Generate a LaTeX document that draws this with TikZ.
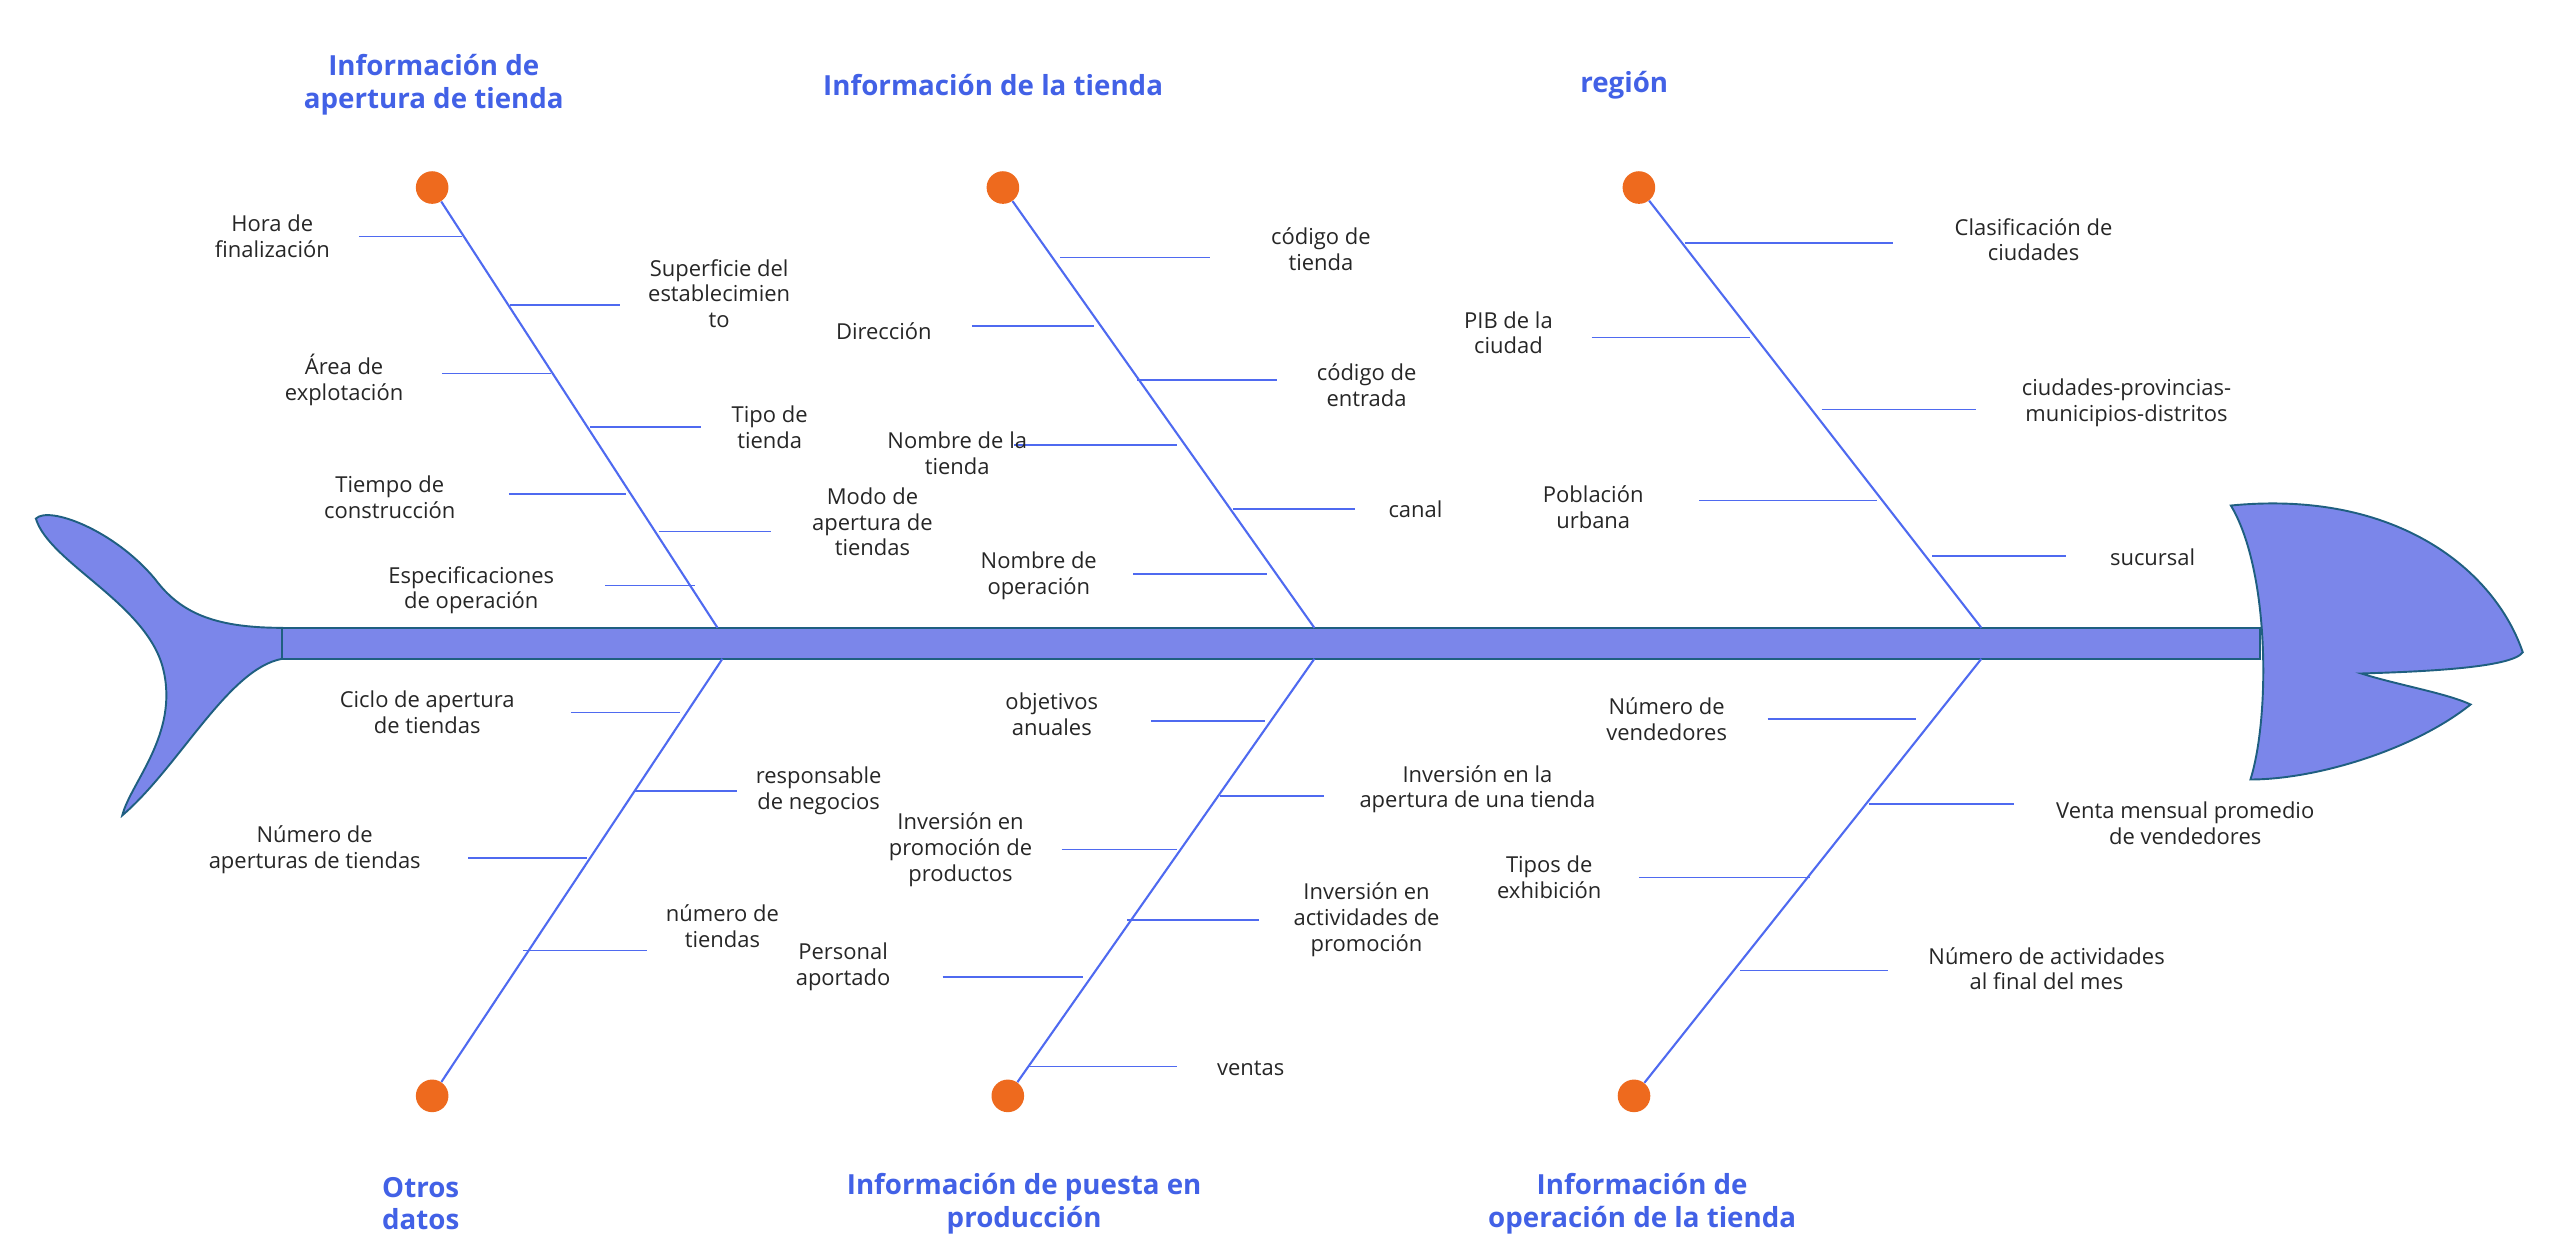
\documentclass[tikz,border=0pt]{standalone}
\usepackage{fontspec}
\setmainfont{Open Sans}
\definecolor{fishfill}{HTML}{7B86EA}
\definecolor{fishline}{HTML}{1F5F80}
\definecolor{bonecol}{HTML}{4F6AF0}
\definecolor{dotcol}{HTML}{EE6A1E}
\definecolor{titlecol}{HTML}{4261E6}
\begin{document}
\begin{tikzpicture}[x=0.03cm,y=-0.03cm,
    bone/.style={draw=bonecol,line width=1.1pt},
    branch/.style={draw=bonecol,line width=0.8pt},
    cause/.style={align=center,font=\fontsize{11.5}{13.5}\selectfont,text=black!85},
    title/.style={align=center,font=\fontsize{14.5}{17}\selectfont\bfseries,text=titlecol},
    dot/.style={circle,fill=dotcol,inner sep=0pt,minimum size=0.6cm}]
  \useasboundingbox (0,0) rectangle (1568,767);

  % tail and head
  \draw[fill=fishfill,draw=fishline,line width=1pt] (173,385) .. controls (130,385) and (110,375) .. (95,355) .. controls (70,325) and (30,310) .. (22,318) .. controls (30,345) and (90,370) .. (100,410) .. controls (110,450) and (80,480) .. (75,500) .. controls (110,470) and (140,410) .. (173,404) -- cycle;
  \draw[fill=fishfill,draw=fishline,line width=1pt] (1368,310) .. controls (1470,300) and (1530,350) .. (1547,400) .. controls (1540,410) and (1480,412) .. (1448,413) .. controls (1470,420) and (1500,425) .. (1515,432) .. controls (1480,460) and (1420,478) .. (1380,478) .. controls (1392,440) and (1392,350) .. cycle;
  \node(spine)[draw=fishline,fill=fishfill,line width=1pt,minimum width=1213*0.03cm,minimum height=19*0.03cm,inner sep=0pt] at (779.5,394.5) {};

  % dots
  \node(d1)[dot] at (265,115) {};
  \node(d2)[dot] at (615,115) {};
  \node(d3)[dot] at (1005,115) {};
  \node(d4)[dot] at (265,672) {};
  \node(d5)[dot] at (618,672) {};
  \node(d6)[dot] at (1002,672) {};
  \coordinate(s1) at (440,385); \coordinate(s2) at (806,385); \coordinate(s3) at (1215,385);
  \coordinate(s4) at (443,404); \coordinate(s5) at (806,404); \coordinate(s6) at (1215,404);
  \draw[bone] (d1) -- (s1);
  \draw[bone] (d2) -- (s2);
  \draw[bone] (d3) -- (s3);
  \draw[bone] (d4) -- (s4);
  \draw[bone] (d5) -- (s5);
  \draw[bone] (d6) -- (s6);

  % titles
  \node(t1)[title] at (266,52) {Información de\\apertura de tienda};
  \node(t2)[title] at (609,52) {Información de la tienda};
  \node(t3)[title] at (996,52) {región};
  \node(t4)[title] at (258,738) {Otros\\datos};
  \node(t5)[title] at (628,738) {Información de puesta en\\producción};
  \node(t6)[title] at (1007,738) {Información de\\operación de la tienda};

  % branches
  \foreach \xa/\xb/\y in {220/283/145, 313/380/187, 271/338/229, 362/430/262, 312/384/303, 404/473/326, 371/426/359,
      650/742/158, 596/671/200, 697/783/233, 622/722/273, 756/831/312, 695/777/352,
      1033/1161/149, 976/1073/207, 1117/1212/251, 1042/1151/307, 1185/1267/341,
      350/417/437, 389/452/485, 287/360/526, 321/397/583,
      706/776/442, 748/812/488, 651/722/521, 691/772/564, 578/664/599, 631/722/654,
      1084/1175/441, 1146/1235/493, 1005/1110/538, 1067/1158/595}
    \draw[branch] (\xa,\y) -- (\xb,\y);

  % causes
  \node(c1)[cause] at (167,145) {Hora de\\finalización};
  \node(c2)[cause] at (441,180) {Superficie del\\establecimien\\to};
  \node(c3)[cause] at (211,233) {Área de\\explotación};
  \node(c4)[cause] at (472,262) {Tipo de\\tienda};
  \node(c5)[cause] at (239,305) {Tiempo de\\construcción};
  \node(c6)[cause] at (535,320) {Modo de\\apertura de\\tiendas};
  \node(c7)[cause] at (289,362) {Especificaciones\\de operación};
  \node(c8)[cause] at (810,153) {código de\\tienda};
  \node(c9)[cause] at (542,203) {Dirección};
  \node(c10)[cause] at (838,236) {código de\\entrada};
  \node(c11)[cause] at (587,278) {Nombre de la\\tienda};
  \node(c12)[cause] at (868,312) {canal};
  \node(c13)[cause] at (637,353) {Nombre de\\operación};
  \node(c14)[cause] at (1247,147) {Clasificación de\\ciudades};
  \node(c15)[cause] at (925,204) {PIB de la\\ciudad};
  \node(c16)[cause] at (1304,247) {ciudades-provincias-\\municipios-distritos};
  \node(c17)[cause] at (977,311) {Población\\urbana};
  \node(c18)[cause] at (1320,342) {sucursal};
  \node(c19)[cause] at (262,437) {Ciclo de apertura\\de tiendas};
  \node(c20)[cause] at (502,485) {responsable\\de negocios};
  \node(c21)[cause] at (193,521) {Número de\\aperturas de tiendas};
  \node(c22)[cause] at (443,568) {número de\\tiendas};
  \node(c23)[cause] at (645,438) {objetivos\\anuales};
  \node(c24)[cause] at (906,484) {Inversión en la\\apertura de una tienda};
  \node(c25)[cause] at (589,521) {Inversión en\\promoción de\\productos};
  \node(c26)[cause] at (838,564) {Inversión en\\actividades de\\promoción};
  \node(c27)[cause] at (517,593) {Personal\\aportado};
  \node(c28)[cause] at (767,655) {ventas};
  \node(c29)[cause] at (1022,441) {Número de\\vendedores};
  \node(c30)[cause] at (1340,505) {Venta mensual promedio\\de vendedores};
  \node(c31)[cause] at (950,538) {Tipos de\\exhibición};
  \node(c32)[cause] at (1255,594) {Número de actividades\\al final del mes};
\end{tikzpicture}
\end{document}
